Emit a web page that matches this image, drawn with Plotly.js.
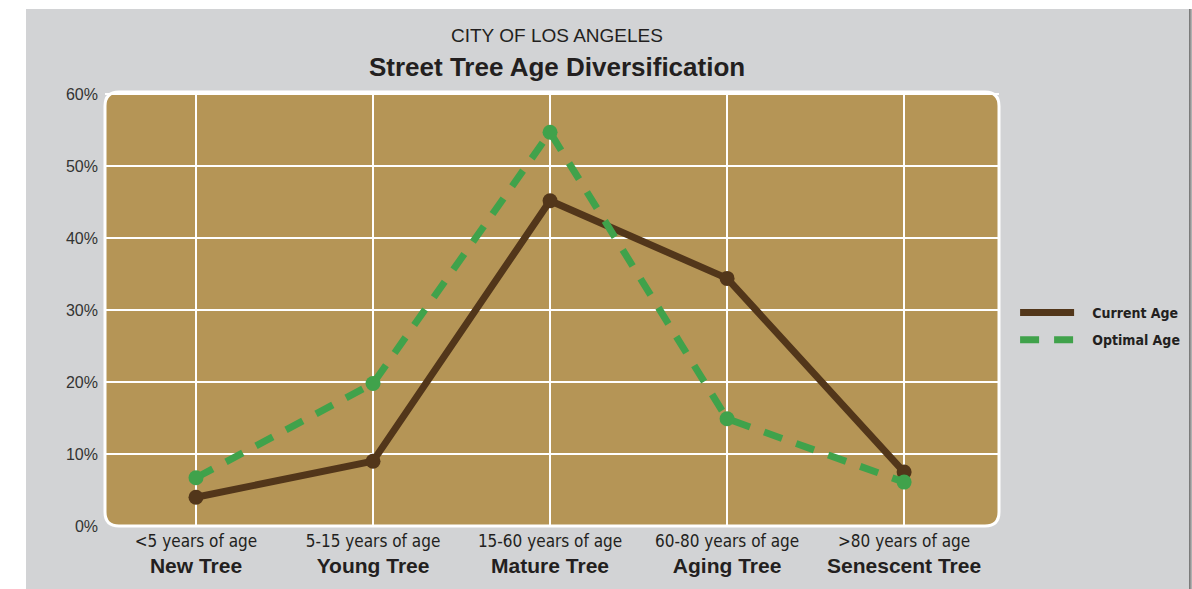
<!DOCTYPE html>
<html>
<head>
<meta charset="utf-8">
<script src="https://cdn.plot.ly/plotly-3.0.1.min.js"></script>
<style>
  html, body { margin:0; padding:0; background:#ffffff; width:1192px; height:589px; overflow:hidden; }
  #wrap { position:absolute; left:26px; top:9px; width:1163px; height:580px; background:#d2d3d5; }
  #chart { width:1163px; height:580px; }
  #edge { position:absolute; left:1189px; top:9px; width:3px; height:580px; background:linear-gradient(to right,#6e6e6e,#bdbdbd); }
</style>
</head>
<body>
<div id="wrap"><div id="chart"></div></div>
<div id="edge"></div>
<script>
// ---- data ----
const ageRanges = ["<5 years of age", "5-15 years of age", "15-60 years of age", "60-80 years of age", ">80 years of age"];
const stageNames = ["New Tree", "Young Tree", "Mature Tree", "Aging Tree", "Senescent Tree"];
const currentAge = [4, 9, 45.2, 34.4, 7.5];
const optimalAge = [6.7, 19.8, 54.7, 14.9, 6.1];
const yTickVals = [0, 10, 20, 30, 40, 50, 60];
const yTickText = ["0%", "10%", "20%", "30%", "40%", "50%", "60%"];
const titleLine1 = "CITY OF LOS ANGELES";
const titleLine2 = "Street Tree Age Diversification";

const COND = "DejaVu Sans Condensed, Liberation Sans Narrow, Arial Narrow, sans-serif";

const categories = ageRanges.map((a, i) =>
  '<span style="font-size:17px">' + a + '</span><br><b><span style="font-family:\'Liberation Sans\',Arial,sans-serif;font-size:21px;color:#231f20">' + stageNames[i] + '</span></b>');

const BROWN = "#52361a";
const GREEN = "#40a24b";
const TAN = "#b59556";
const GRAY = "#d2d3d5";
const NB = "\u00a0\u00a0\u00a0";

const traces = [
  { x: categories, y: currentAge, type: "scatter", mode: "lines", name: NB + "Current Age",
    line: { color: BROWN, width: 7 }, legendgroup: "a", hoverinfo: "skip" },
  { x: categories, y: currentAge, type: "scatter", mode: "markers", showlegend: false,
    marker: { color: BROWN, size: 15 }, hoverinfo: "skip" },
  { x: categories, y: optimalAge, type: "scatter", mode: "lines", name: NB + "Optimal Age",
    line: { color: GREEN, width: 7, dash: "19px,15px" }, legendgroup: "b", hoverinfo: "skip" },
  { x: categories, y: optimalAge, type: "scatter", mode: "markers", showlegend: false,
    marker: { color: GREEN, size: 15 }, hoverinfo: "skip" }
];

// rounded plot-area panel (paper coords)
const W = 894, H = 434, R = 14;
const rx = R / W, ry = R / H;
const ex = 3 / W, ey = 3 / H;
const panel = `M ${rx},0 L ${1-rx},0 Q 1,0 1,${ry} L 1,${1-ry} Q 1,1 ${1-rx},1 L ${rx},1 Q 0,1 0,${1-ry} L 0,${ry} Q 0,0 ${rx},0 Z`;
const masks = [
  `M ${-ex},${1+ey} L ${rx},${1+ey} L ${rx},1 Q 0,1 0,${1-ry} L ${-ex},${1-ry} Z`,
  `M ${1+ex},${1+ey} L ${1-rx},${1+ey} L ${1-rx},1 Q 1,1 1,${1-ry} L ${1+ex},${1-ry} Z`,
  `M ${-ex},${-ey} L ${rx},${-ey} L ${rx},0 Q 0,0 0,${ry} L ${-ex},${ry} Z`,
  `M ${1+ex},${-ey} L ${1-rx},${-ey} L ${1-rx},0 Q 1,0 1,${ry} L ${1+ex},${ry} Z`
];
const shapes = [
  { type: "path", xref: "paper", yref: "paper", path: panel, fillcolor: TAN, line: { width: 0 }, layer: "below" },
  ...masks.map(p => ({ type: "path", xref: "paper", yref: "paper", path: p, fillcolor: GRAY, line: { width: 0 }, layer: "between" })),
  { type: "path", xref: "paper", yref: "paper", path: panel, fillcolor: "rgba(0,0,0,0)", line: { color: "#ffffff", width: 3 }, layer: "between" }
];

const annotations = [
  { text: titleLine1, xref: "paper", yref: "paper", x: 0.5056, y: 1.1313, xanchor: "center", yanchor: "middle",
    showarrow: false, font: { family: "Liberation Sans, Arial, sans-serif", size: 19, color: "#231f20" } },
  { text: "<b>" + titleLine2 + "</b>", xref: "paper", yref: "paper", x: 0.5056, y: 1.0576, xanchor: "center", yanchor: "middle",
    showarrow: false, font: { family: "Liberation Sans, Arial, sans-serif", size: 26, color: "#231f20" } }
];

const layout = {
  width: 1163, height: 580,
  margin: { l: 79, r: 190, t: 83, b: 63, autoexpand: false },
  paper_bgcolor: GRAY,
  plot_bgcolor: "rgba(0,0,0,0)",
  font: { family: "Liberation Sans, Arial, sans-serif", color: "#231f20" },
  xaxis: {
    type: "category",
    range: [-0.514, 4.536],
    showgrid: true, gridcolor: "#ffffff", gridwidth: 2,
    zeroline: false, showline: false, ticks: "",
    tickfont: { family: COND, size: 20, color: "#231f20" },
    fixedrange: true
  },
  yaxis: {
    range: [0, 60.3],
    tickvals: yTickVals, ticktext: yTickText,
    showgrid: true, gridcolor: "#ffffff", gridwidth: 2,
    zeroline: false, showline: false, ticks: "", ticklabelstandoff: 6,
    tickfont: { family: "Liberation Sans, Arial, sans-serif", size: 16, color: "#333333" },
    fixedrange: true
  },
  legend: {
    x: 1.018, xanchor: "left", y: 0.46, yanchor: "middle",
    bgcolor: "rgba(0,0,0,0)", borderwidth: 0,
    font: { family: COND, size: 14, color: "#231f20", weight: "bold" },
    traceorder: "grouped", tracegroupgap: 6, itemwidth: 54
  },
  annotations: annotations,
  shapes: shapes,
  showlegend: true
};

Plotly.newPlot("chart", traces, layout, { displayModeBar: false, staticPlot: true });
</script>
</body>
</html>
